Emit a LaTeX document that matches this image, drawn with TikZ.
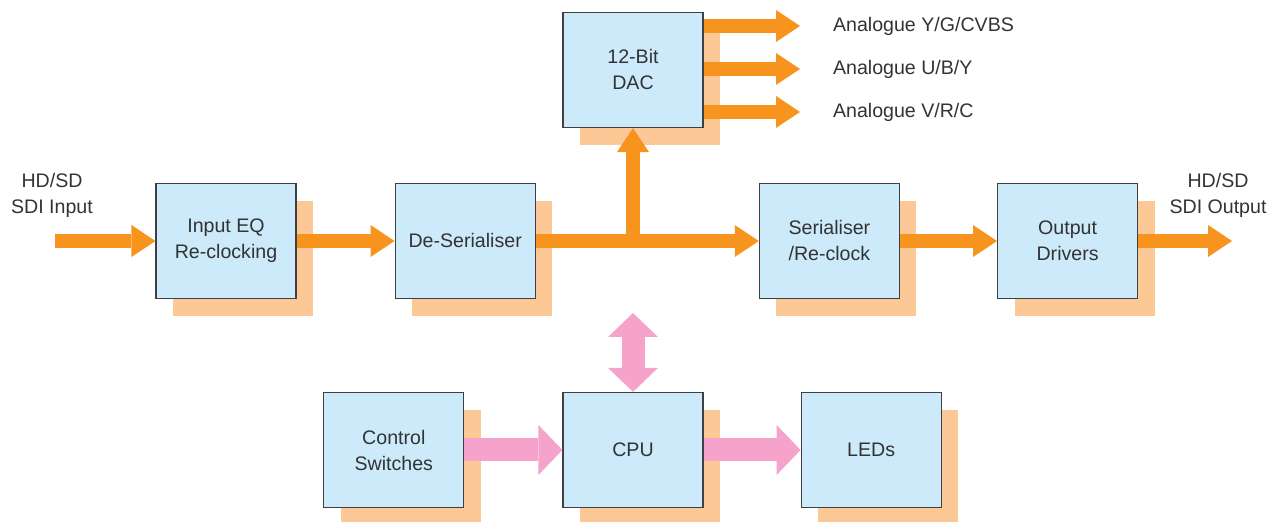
\documentclass[tikz,border=0pt]{standalone}
\usepackage{fontspec}
\setmainfont{Liberation Sans}
\usetikzlibrary{positioning,shadows,arrows.meta}
\definecolor{boxblue}{HTML}{CCEAFA}
\definecolor{shadeorange}{HTML}{FBC896}
\definecolor{sigorange}{HTML}{F7941D}
\definecolor{ctrlpink}{HTML}{F5A3CB}
\definecolor{textgrey}{HTML}{333333}

\begin{document}
\begin{tikzpicture}
  [x=0.5pt, y=-0.5pt,
   every node/.style={text=textgrey, font=\fontsize{9.8}{13}\selectfont, align=center},
   block/.style={draw=black!75, line width=0.6pt, fill=boxblue, minimum width=70pt,
     minimum height=57.5pt, inner sep=0pt,
     drop shadow={shadow xshift=8.5pt, shadow yshift=-9pt, fill=shadeorange, opacity=1}},
   sigtip/.tip={Triangle[width=16pt, length=12pt, line width=0pt]},
   pinktip/.tip={Triangle[width=25pt, length=12pt, line width=0pt]},
   sig/.style={draw=sigorange, line width=7pt, -sigtip},
   ctrl/.style={draw=ctrlpink, line width=11.5pt, -pinktip}]
  \useasboundingbox (0,0) rectangle (1280,522);

  % signal path
  \node [block] (inEQ) at (226,241) {Input EQ\\Re-clocking};
  \node [block, right=49pt of inEQ] (deser) {De-Serialiser};
  \node [block, right=111.5pt of deser] (ser) {Serialiser\\/Re-clock};
  \node [block, right=48.5pt of ser] (outdrv) {Output\\Drivers};
  \node [block] (dac) at (633,70) {12-Bit\\DAC};

  % control
  \node [block] (cpu) at (633,450) {CPU};
  \node [block, left=49pt of cpu] (ctrlsw) {Control\\Switches};
  \node [block, right=48.5pt of cpu] (leds) {LEDs};

  % labels
  \node (sdiin) at (52,195) {HD/SD\\SDI Input};
  \node (sdiout) at (1218,195) {HD/SD\\SDI Output};
  \node [anchor=west] (anaY) at (826,26) {Analogue Y/G/CVBS};
  \node [anchor=west] (anaU) at (826,69) {Analogue U/B/Y};
  \node [anchor=west] (anaV) at (826,112) {Analogue V/R/C};
  \coordinate (inpt) at (55,241);
  \coordinate (outpt) at (1232,241);
  \coordinate (cpubus) at (633,313);

  \draw [sig] (inpt) -- (inEQ.west);
  \draw [sig] (inEQ.east) -- (deser.west);
  \draw [sig] (deser.east) -- (ser.west);
  \draw [sig] (deser.east -| dac.south) -- (dac.south);
  \draw [sig] (ser.east) -- (outdrv.west);
  \draw [sig] (outdrv.east) -- (outpt);
  \draw [sig, shorten >=13pt] (dac.east |- anaY) -- (anaY.west);
  \draw [sig, shorten >=13pt] (dac.east |- anaU) -- (anaU.west);
  \draw [sig, shorten >=13pt] (dac.east |- anaV) -- (anaV.west);

  \draw [ctrl] (ctrlsw.east) -- (cpu.west);
  \draw [ctrl] (cpu.east) -- (leds.west);
  \draw [ctrl, pinktip-pinktip] (cpubus) -- (cpu.north);
\end{tikzpicture}
\end{document}
